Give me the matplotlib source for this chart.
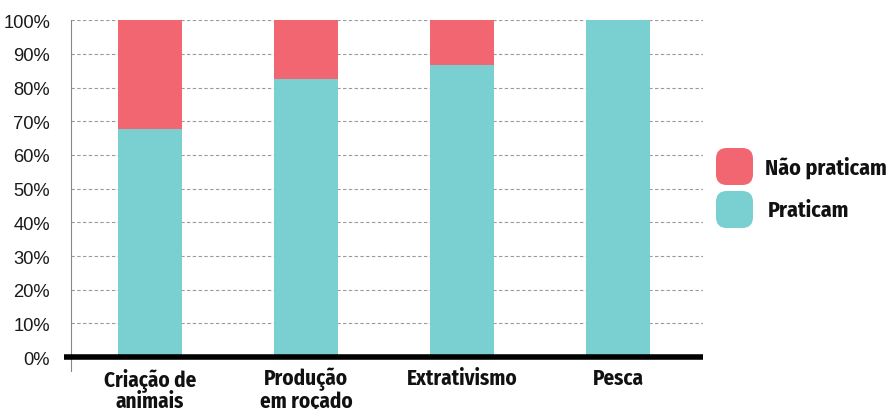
import numpy as np
import matplotlib
matplotlib.use("Agg")
import matplotlib.pyplot as plt
from matplotlib.patches import FancyBboxPatch

categories = ["Criação de\nanimais", "Produção\nem roçado", "Extrativismo", "Pesca"]
praticam = [67.7, 82.5, 86.6, 100.0]
nao_praticam = [100 - v for v in praticam]
yticks = [0, 10, 20, 30, 40, 50, 60, 70, 80, 90, 100]
legend_labels = ["Não praticam", "Praticam"]

teal = "#7acfd1"
pink = "#f26672"
tick_fam = ["Liberation Sans", "DejaVu Sans"]
lab_fam = ["Fira Sans Condensed", "DejaVu Sans"]

fig = plt.figure(figsize=(8.92, 4.10), dpi=100)
W, H = 892, 410
# axes box in pixels: x 71..703, y 21.3..372
ax = fig.add_axes([71 / W, (H - 372) / H, (703 - 71) / W, (372 - 21.3) / H])

x = np.arange(len(categories))
ax.bar(x, praticam, width=0.41, color=teal, zorder=2)
ax.bar(x, nao_praticam, bottom=praticam, width=0.41, color=pink, zorder=2)

ax.set_xlim(-0.506, -0.506 + (703 - 71) / 156)
ax.set_ylim(-4.15, 100)

for t in yticks[1:]:
    ax.axhline(t, color="#9a9a9a", lw=0.8, ls=(0, (3, 2.2)), zorder=1)

# thick baseline
ax.plot([-0.506 - 7 / 156, ax.get_xlim()[1]], [0, 0], color="black", lw=4, solid_capstyle="butt",
        clip_on=False, zorder=3)

for s in ["top", "right", "bottom"]:
    ax.spines[s].set_visible(False)
ax.spines["left"].set_color("#888888")
ax.spines["left"].set_linewidth(0.8)

ax.set_yticks(yticks)
ax.set_yticklabels([f"{t}%" for t in yticks], family=tick_fam, fontsize=13.2, color="#1a1a1a")
ax.set_xticks(x)
ax.set_xticklabels(categories, family=lab_fam, fontsize=15.2, fontweight="bold", color="#111111",
                   linespacing=1.0, va="top")
ax.tick_params(axis="y", length=0, pad=15)
ax.tick_params(axis="x", length=0, pad=-3)

# legend
colors = [pink, teal]
ys = [149, 192]
for lab, c, y0, tx in zip(legend_labels, colors, ys, [765, 768]):
    fig.patches.append(FancyBboxPatch((716 / W, (H - y0 - 37) / H), 37 / W, 37 / H,
                                      boxstyle="round,pad=0,rounding_size=0.012",
                                      transform=fig.transFigure, color=c, lw=0,
                                      mutation_aspect=W / H))
    fig.text(tx / W, (H - y0 - 18.5) / H, lab, family=lab_fam, fontsize=15.8, fontweight="bold",
             color="#111111", va="center", ha="left")

fig.savefig("out.png", dpi=100)
